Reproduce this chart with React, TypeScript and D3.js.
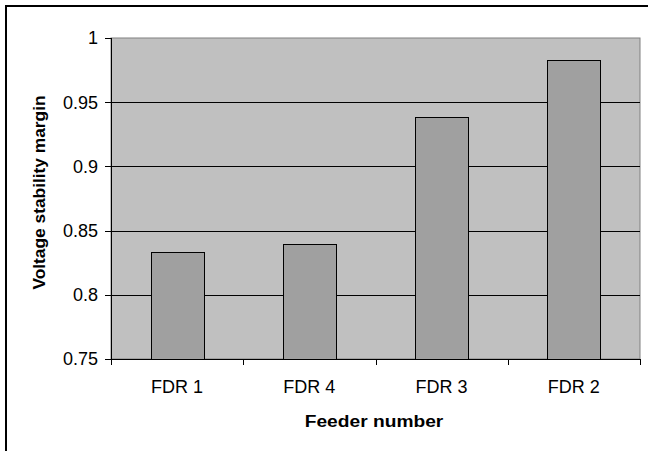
import React from "react";
import * as d3 from "d3";

const categories = ["FDR 1", "FDR 4", "FDR 3", "FDR 2"];
const values = [0.833, 0.8396, 0.9387, 0.983];
const yTicks = [0.75, 0.8, 0.85, 0.9, 0.95, 1];
const yTickLabels = ["0.75", "0.8", "0.85", "0.9", "0.95", "1"];
const xTitle = "Feeder number";
const yTitle = "Voltage stability margin";

const W = 648;
const H = 451;
const plot = { left: 111, top: 38, right: 640, bottom: 359 };
const FONT = "'Liberation Sans', Arial, sans-serif";

export default function App() {
  const x = d3
    .scaleBand<string>()
    .domain(categories)
    .range([plot.left, plot.right])
    .paddingInner(0.6)
    .paddingOuter(0.3);
  const step = (plot.right - plot.left) / categories.length;
  const y = d3.scaleLinear().domain([0.75, 1]).range([plot.bottom, plot.top]);

  const boundaries = d3.range(categories.length + 1).map((i) => plot.left + i * step);

  return (
    <svg
      width={W}
      height={H}
      style={{ position: "absolute", left: 0, top: 0, background: "#fff", overflow: "hidden" }}
    >
      {/* outer chart border (only top and left edges fall inside the picture) */}
      <line x1={6} x2={W} y1={6} y2={6} stroke="#000" strokeWidth={2} />
      <line x1={6} x2={6} y1={5} y2={H} stroke="#000" strokeWidth={2} />
      {/* plot area */}
      <rect
        x={plot.left}
        y={plot.top}
        width={plot.right - plot.left}
        height={plot.bottom - plot.top}
        fill="#c0c0c0"
        stroke="#808080"
        strokeWidth={1}
      />
      {/* gridlines */}
      {yTicks.slice(1, -1).map((t) => (
        <line
          key={t}
          x1={plot.left}
          x2={plot.right}
          y1={Math.round(y(t)) + 0.5}
          y2={Math.round(y(t)) + 0.5}
          stroke="#000"
          strokeWidth={1}
        />
      ))}
      {/* bars */}
      {categories.map((c, i) => (
        <rect
          key={c}
          x={Math.round(x(c)!) + 0.5}
          y={Math.round(y(values[i])) + 0.5}
          width={Math.round(x.bandwidth())}
          height={Math.round(y(0.75) - y(values[i]))}
          fill="#a0a0a0"
          stroke="#000"
          strokeWidth={1}
        />
      ))}
      {/* y axis */}
      <line x1={plot.left + 0.5} x2={plot.left + 0.5} y1={plot.top} y2={plot.bottom + 6} stroke="#000" />
      {yTicks.map((t, i) => (
        <g key={t}>
          <line
            x1={plot.left - 6}
            x2={plot.left}
            y1={Math.round(y(t)) + 0.5}
            y2={Math.round(y(t)) + 0.5}
            stroke="#000"
          />
          <text
            x={98}
            y={y(t)}
            dy="0.35em"
            textAnchor="end"
            fontFamily={FONT}
            fontSize={18}
            fill="#000"
          >
            {yTickLabels[i]}
          </text>
        </g>
      ))}
      {/* x axis */}
      <line x1={plot.left} x2={plot.right + 1} y1={plot.bottom + 0.5} y2={plot.bottom + 0.5} stroke="#000" />
      {boundaries.map((b, i) => (
        <line
          key={i}
          x1={Math.round(b) + 0.5}
          x2={Math.round(b) + 0.5}
          y1={plot.bottom}
          y2={plot.bottom + 6}
          stroke="#000"
        />
      ))}
      {categories.map((c) => (
        <text
          key={c}
          x={x(c)! + x.bandwidth() / 2}
          y={393}
          textAnchor="middle"
          fontFamily={FONT}
          fontSize={18}
          fill="#000"
        >
          {c}
        </text>
      ))}
      {/* axis titles */}
      <g transform="translate(374,427) scale(1.13,1)">
        <text textAnchor="middle" fontFamily={FONT} fontSize={17} fontWeight="bold" fill="#000">
          {xTitle}
        </text>
      </g>
      <g transform="translate(45,192.5) rotate(-90) scale(1.02,1)">
        <text textAnchor="middle" fontFamily={FONT} fontSize={17} fontWeight="bold" fill="#000">
          {yTitle}
        </text>
      </g>
    </svg>
  );
}
